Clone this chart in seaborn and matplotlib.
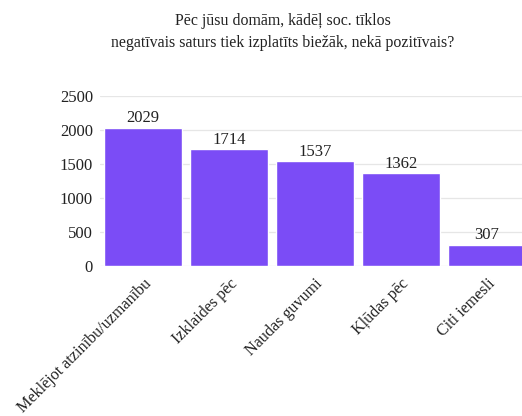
import matplotlib
matplotlib.use("Agg")
import matplotlib.pyplot as plt
import seaborn as sns
import pandas as pd

categories = ["Meklējot atzinību/uzmanību", "Izklaides pēc", "Naudas guvumi",
              "Kļūdas pēc", "Citi iemesli"]
counts = [2029, 1714, 1537, 1362, 307]
y_ticks = [0, 500, 1000, 1500, 2000, 2500]
title = "Pēc jūsu domām, kādēļ soc. tīklos\nnegatīvais saturs tiek izplatīts biežāk, nekā pozitīvais?"

sns.set_theme(style="white")
plt.rcParams["font.family"] = ["Liberation Serif", "DejaVu Serif"]

df = pd.DataFrame({"reason": categories, "count": counts})

fig = plt.figure(figsize=(5.22, 4.16), dpi=100)
ax = fig.add_axes([100 / 522, 150 / 416, 430 / 522, 170 / 416])

sns.barplot(data=df, x="reason", y="count", color="#7b4cf6", saturation=1,
            width=0.9, ax=ax, zorder=2)

ax.set_ylim(0, 2500)
ax.set_xlim(-0.5, 4.5)
ax.set_yticks(y_ticks)
ax.set_yticklabels([str(v) for v in y_ticks], fontsize=12, color="#222222")
ax.grid(axis="y", color="#e6e6e6", linewidth=0.9, zorder=0)
ax.set_axisbelow(True)
for s in ax.spines.values():
    s.set_visible(False)
ax.tick_params(axis="y", length=0, pad=5)
ax.tick_params(axis="x", length=0, pad=7)
ax.set_xlabel("")
ax.set_ylabel("")

for lbl in ax.get_xticklabels():
    lbl.set_rotation(45)
    lbl.set_ha("right")
    lbl.set_rotation_mode("anchor")
    lbl.set_fontsize(11.6)
    lbl.set_color("#222222")

for i, v in enumerate(counts):
    ax.text(i, v + 25, str(v), ha="center", va="bottom", fontsize=12, color="#222222")

fig.text(283 / 522, 1 - 32 / 416, title, ha="center", va="center",
         fontsize=11.4, color="#222222", linespacing=1.5)

fig.savefig("out.png", dpi=100)
